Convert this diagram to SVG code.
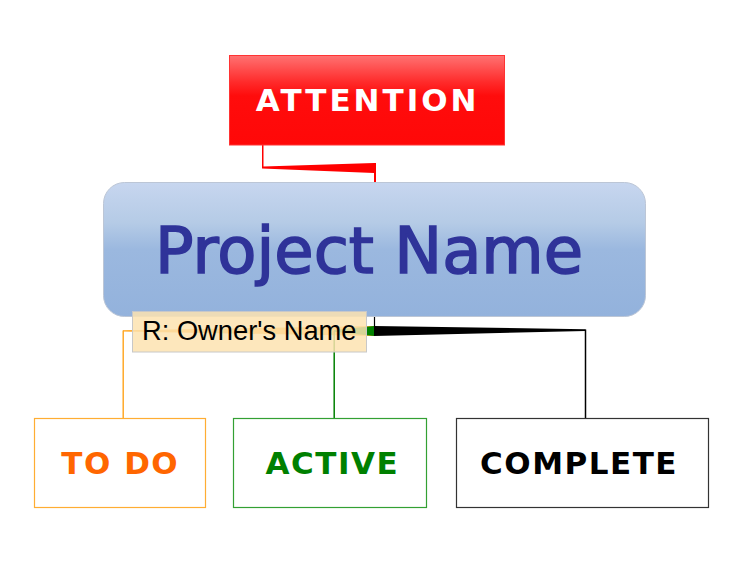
<svg xmlns="http://www.w3.org/2000/svg" width="750" height="563" viewBox="0 0 750 563">
<defs>
<linearGradient id="gRed" x1="0" y1="0" x2="0" y2="1">
<stop offset="0" stop-color="#ff7272"/>
<stop offset="0.3" stop-color="#ff2a2a"/>
<stop offset="0.45" stop-color="#ff0c0c"/>
<stop offset="1" stop-color="#ff0808"/>
</linearGradient>
<linearGradient id="gBlue" x1="0" y1="0" x2="0" y2="1">
<stop offset="0" stop-color="#c7d6ef"/>
<stop offset="0.3" stop-color="#b5cbe6"/>
<stop offset="0.5" stop-color="#9bb8df"/>
<stop offset="1" stop-color="#93b2dc"/>
</linearGradient>
<style>
.lab{font-family:"DejaVu Sans",Verdana,sans-serif;font-weight:bold;font-size:31px;letter-spacing:1.5px;text-anchor:middle}
.box{fill:#ffffff;stroke-width:1.2}
</style>
</defs>
<rect width="750" height="563" fill="#ffffff"/>
<g id="connectors">
<polygon points="262,145 263.5,145 263.5,166.5 374,163 376,163 376,182 374,182 374,173 262,168.5" fill="#ff0000"/>
<line x1="374.5" y1="316" x2="374.5" y2="327" stroke="#000000" stroke-width="1.2"/>
<polygon points="374,326 374,336 123,331.5 123,330.3" fill="#ffa31a"/>
<line x1="123.2" y1="330.5" x2="123.2" y2="418" stroke="#ffa31a" stroke-width="1.4"/>
<polygon points="374,326 374,336 334,331.8 334,330" fill="#008000"/>
<line x1="334.2" y1="331" x2="334.2" y2="418" stroke="#008000" stroke-width="1.5"/>
<polygon points="374,326 585.5,329.3 585.5,331 374,336" fill="#000000"/>
<line x1="585.5" y1="329.5" x2="585.5" y2="418" stroke="#000000" stroke-width="1.5"/>
</g>
<g id="attention">
<rect x="229.5" y="55.5" width="275" height="89.5" fill="url(#gRed)" stroke="#ff3333" stroke-width="1"/>
<text x="367.7" y="110.5" font-family="DejaVu Sans,Verdana,sans-serif" font-weight="bold" font-size="31" letter-spacing="3" text-anchor="middle" fill="#ffffff">ATTENTION</text>
</g>
<g id="project">
<rect x="103.5" y="182.5" width="542" height="134" rx="21" ry="21" fill="url(#gBlue)" stroke="#bcc6d6" stroke-width="1"/>
<text x="369" y="273" font-family="DejaVu Sans,Verdana,sans-serif" font-size="64" text-anchor="middle" fill="#2f3399" stroke="#2f3399" stroke-width="1.6">Project Name</text>
</g>
<g id="owner">
<rect x="132.5" y="311.5" width="234" height="40.5" fill="#fde3b0" fill-opacity="0.85" stroke="#c8c8c8" stroke-width="1"/>
<text x="142" y="339.5" font-family="Liberation Sans,Arial,sans-serif" font-size="27.3" fill="#000000">R: Owner's Name</text>
</g>
<g id="todo">
<rect class="box" x="34.5" y="418.5" width="171" height="89" stroke="#ffad33"/>
<text class="lab" x="120.3" y="474" fill="#ff6600">TO DO</text>
</g>
<g id="active">
<rect class="box" x="233.5" y="418.5" width="193" height="89" stroke="#33a033"/>
<text class="lab" x="332.4" y="474" fill="#008000">ACTIVE</text>
</g>
<g id="complete">
<rect class="box" x="456.5" y="418.5" width="252" height="89" stroke="#333333"/>
<text class="lab" x="579" y="474" fill="#000000">COMPLETE</text>
</g>
</svg>
